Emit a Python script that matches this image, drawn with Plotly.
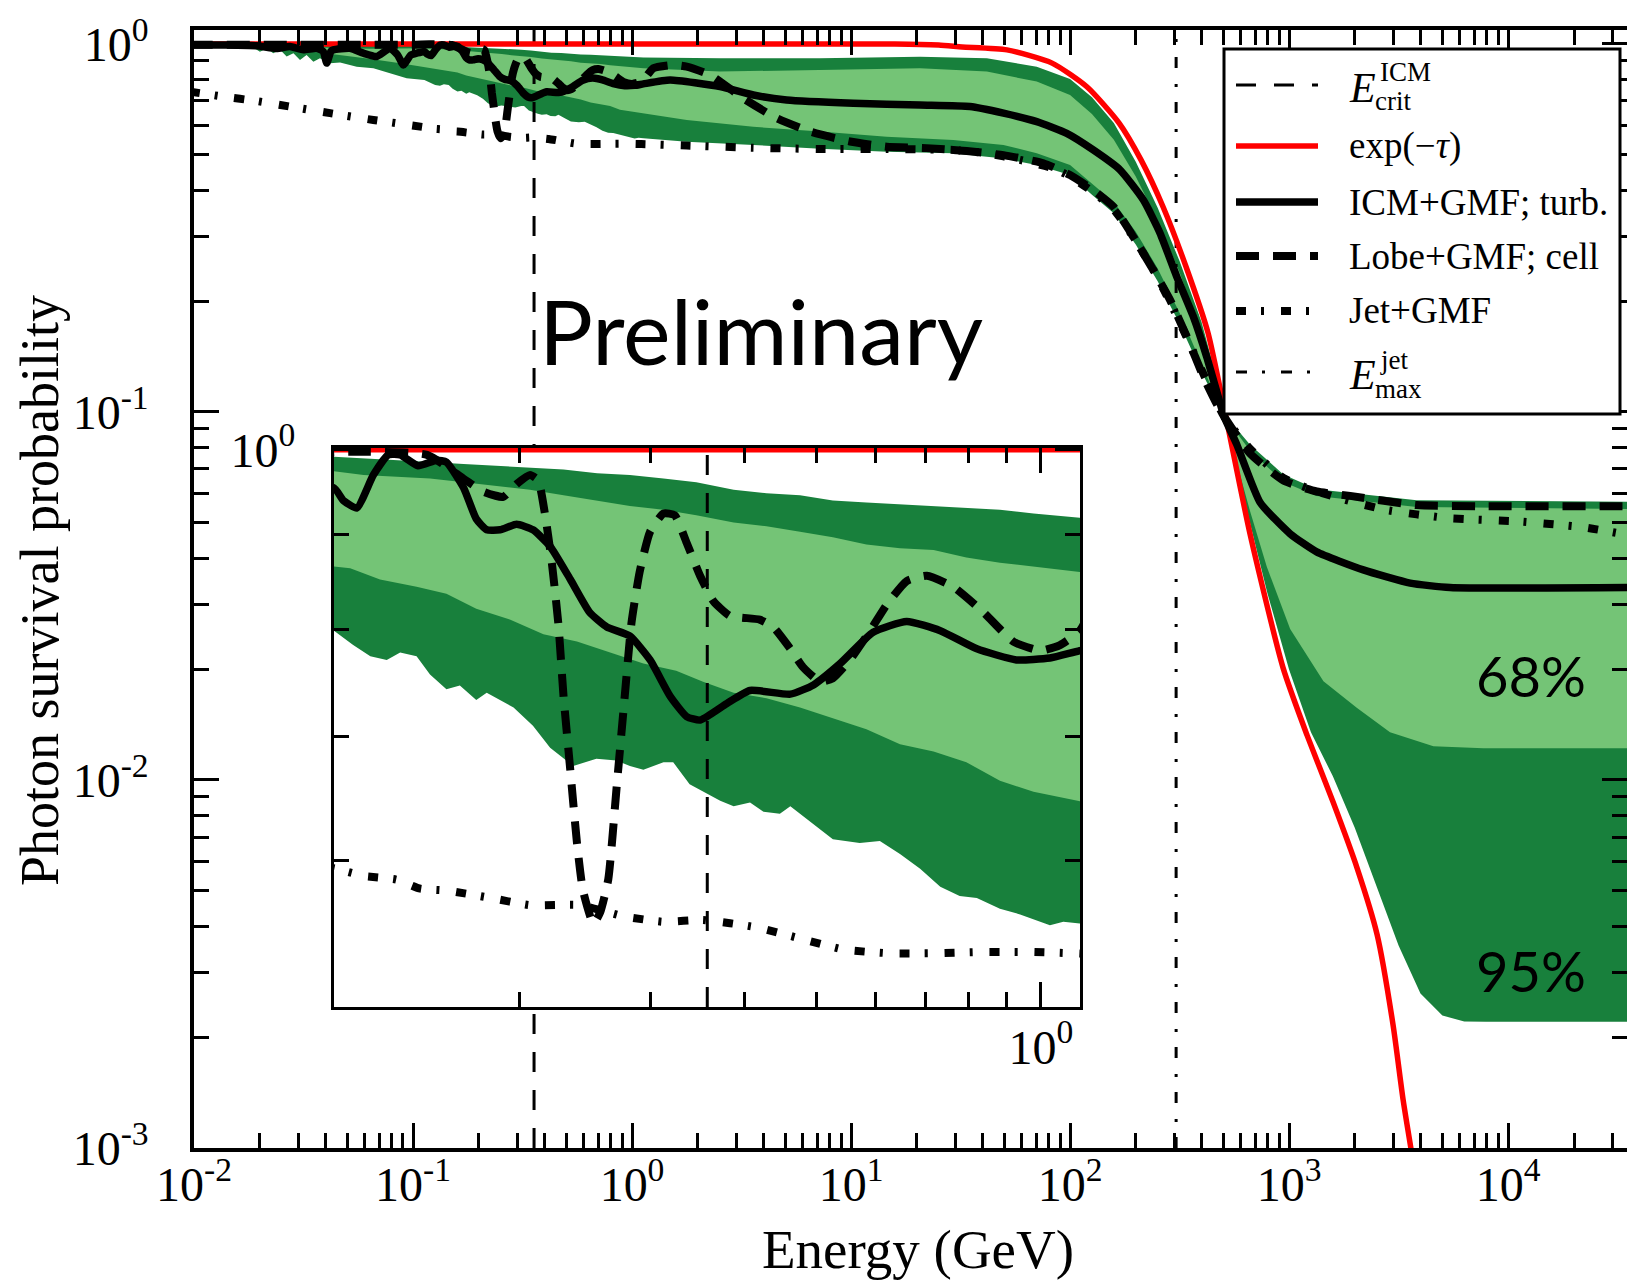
import numpy as np
import plotly.graph_objects as go

# ---------------------------------------------------------------
# Photon survival probability vs. energy
# energies stored as log10(E / GeV), probabilities as log10(P)
# ---------------------------------------------------------------

# exp(-tau): EBL absorption only
tau_logE = [-2.02, 1.20, 1.40, 1.507, 1.712, 1.918, 2.078, 2.224, 2.324, 2.425,
            2.530, 2.630, 2.712, 2.822, 2.973, 3.082, 3.201, 3.311, 3.402, 3.475,
            3.521, 3.570]
tau_logP = [0.0, 0.0, -0.003, -0.008, -0.016, -0.052, -0.117, -0.215, -0.315, -0.443,
            -0.606, -0.785, -1.014, -1.332, -1.696, -1.878, -2.060, -2.240, -2.420, -2.666,
            -2.870, -3.050]

# ICM+GMF; turbulent field
icm_logE = [-2.02, -1.85, -1.714, -1.622, -1.562, -1.501, -1.44, -1.41, -1.394, -1.375,
            -1.364, -1.288, -1.227, -1.166, -1.105, -1.07, -1.044, -1.01, -0.983, -0.948,
            -0.935, -0.917, -0.895, -0.875, -0.859, -0.835, -0.81, -0.797, -0.774, -0.757,
            -0.743, -0.725, -0.703, -0.681, -0.658, -0.631, -0.605, -0.582, -0.551, -0.524,
            -0.497, -0.475, -0.457, -0.421, -0.39, -0.336, -0.305, -0.269, -0.225, -0.18,
            -0.135, -0.086, -0.033, 0.012, 0.052, 0.174, 0.402, 0.554, 0.706, 1.011,
            1.315, 1.543, 1.696, 1.848, 1.985, 2.106, 2.228, 2.335, 2.411, 2.487,
            2.563, 2.624, 2.685, 2.703, 2.761, 2.868, 3.005, 3.126, 3.339, 3.553,
            3.735, 4.60]
icm_logP = [-0.003, -0.003, -0.005, -0.012, -0.007, -0.016, -0.012, -0.020, -0.052, -0.020,
            -0.016, -0.012, -0.025, -0.034, -0.012, -0.030, -0.057, -0.030, -0.025, -0.0205,
            -0.0274, -0.0314, -0.0136, -0.0027, -0.0027, -0.0086, -0.0056, -0.0066, -0.0205, -0.0373,
            -0.0432, -0.0432, -0.0402, -0.0432, -0.0521, -0.0699, -0.0878, -0.0957, -0.1006, -0.1135,
            -0.1332, -0.1441, -0.146, -0.137, -0.130, -0.132, -0.127, -0.1154, -0.0986, -0.0927,
            -0.0977, -0.1075, -0.1135, -0.1125, -0.1085, -0.098, -0.116, -0.1386, -0.152, -0.161,
            -0.166, -0.170, -0.188, -0.211, -0.243, -0.288, -0.342, -0.424, -0.514, -0.632,
            -0.741, -0.850, -0.976, -1.012, -1.088, -1.246, -1.331, -1.380, -1.429, -1.465,
            -1.477, -1.477]

# Lobe+GMF; cell-like field
lobe_logE = [-2.02, -1.0, -0.926, -0.823, -0.774, -0.748, -0.721, -0.703, -0.685, -0.674,
             -0.665, -0.656, -0.647, -0.640, -0.631, -0.622, -0.614, -0.600, -0.591, -0.580,
             -0.569, -0.558, -0.549, -0.538, -0.524, -0.506, -0.491, -0.475, -0.457, -0.439,
             -0.417, -0.377, -0.359, -0.336, -0.319, -0.296, -0.279, -0.256, -0.229, -0.207,
             -0.180, -0.153, -0.118, -0.077, -0.037, -0.001, 0.0255, 0.052, 0.097, 0.189,
             0.250, 0.356, 0.508, 0.661, 0.813, 0.995, 1.163, 1.345, 1.528, 1.696,
             1.878, 2.0, 2.106, 2.198, 2.289, 2.38, 2.457, 2.533, 2.609, 2.685,
             2.822, 2.974, 3.126, 3.279, 3.583, 3.887, 4.60]
lobe_logP = [-0.002, -0.002, -0.001, -0.0027, -0.0156, -0.0225, -0.0254, -0.0185, -0.0136, -0.0165,
             -0.0344, -0.060, -0.0937, -0.1332, -0.1728, -0.2124, -0.238, -0.256, -0.250, -0.232,
             -0.183, -0.1332, -0.0937, -0.066, -0.0442, -0.0344, -0.0353, -0.0502, -0.068, -0.0818,
             -0.0897, -0.0917, -0.0957, -0.1075, -0.1174, -0.1253, -0.1234, -0.1135, -0.0977, -0.0838,
             -0.0709, -0.068, -0.0739, -0.0878, -0.1036, -0.1085, -0.1055, -0.0977, -0.066, -0.057,
             -0.0616, -0.084, -0.1476, -0.202, -0.238, -0.265, -0.279, -0.283, -0.291, -0.302,
             -0.324, -0.356, -0.397, -0.442, -0.524, -0.614, -0.696, -0.795, -0.904, -0.995,
             -1.113, -1.186, -1.216, -1.228, -1.253, -1.256, -1.256]

# Jet+GMF
jet_logE = [-2.02, -1.866, -1.714, -1.562, -1.379, -1.181, -0.946, -0.908, -0.864, -0.832,
            -0.797, -0.739, -0.685, -0.618, -0.560, -0.506, -0.453, -0.381, -0.323, -0.265,
            -0.202, -0.144, -0.077, -0.010, 0.043, 0.250, 0.554, 0.858, 1.163, 1.467,
            1.620, 1.772, 1.924, 2.0, 2.1, 2.2, 2.3, 2.4, 2.5, 2.6,
            2.703, 2.822, 2.974, 3.126, 3.431, 3.735, 4.039, 4.343, 4.60]
jet_logP = [-0.1295, -0.143, -0.155, -0.170, -0.188, -0.2065, -0.2263, -0.2302, -0.2322, -0.2371,
            -0.2381, -0.242, -0.246, -0.246, -0.252, -0.255, -0.254, -0.258, -0.264, -0.270,
            -0.272, -0.272, -0.2713, -0.2713, -0.272, -0.276, -0.282, -0.2853, -0.2853, -0.288,
            -0.297, -0.315, -0.338, -0.360, -0.400, -0.450, -0.535, -0.635, -0.755, -0.885,
            -1.012, -1.100, -1.179, -1.216, -1.265, -1.289, -1.297, -1.313, -1.340]

# 95% and 68% envelopes of the turbulent-field realisations
up95_logE = [-2.02, -1.7, -1.4, -1.2, -0.948, -0.908, -0.864, -0.819, -0.774, -0.730,
             -0.685, -0.640, -0.595, -0.551, -0.506, -0.462, -0.412, -0.368, -0.323, -0.279,
             -0.234, -0.189, -0.144, -0.100, -0.055, -0.010, 0.052, 0.402, 0.858, 1.315,
             1.620, 1.848, 2.0, 2.1, 2.2, 2.3, 2.4, 2.5, 2.6, 2.67,
             2.703, 2.822, 2.974, 3.126, 3.583, 4.60]
up95_logP = [-0.001, -0.002, -0.003, -0.003, -0.0037, -0.0047, -0.0056, -0.0066, -0.0076, -0.0086,
             -0.0096, -0.0106, -0.0126, -0.0136, -0.0155, -0.0175, -0.0215, -0.0235, -0.0245, -0.0274,
             -0.0284, -0.0294, -0.0304, -0.0314, -0.0324, -0.0344, -0.0367, -0.039, -0.039, -0.0345,
             -0.039, -0.0616, -0.095, -0.145, -0.215, -0.320, -0.445, -0.590, -0.755, -0.910,
             -1.005, -1.089, -1.170, -1.210, -1.240, -1.244]

up68_logE = [-2.02, -1.7, -1.4, -1.2, -0.948, -0.908, -0.864, -0.819, -0.774, -0.730,
             -0.685, -0.640, -0.595, -0.551, -0.506, -0.462, -0.412, -0.368, -0.323, -0.279,
             -0.234, -0.189, -0.144, -0.100, -0.055, -0.010, 0.052, 0.402, 0.858, 1.315,
             1.620, 1.848, 2.0, 2.1, 2.2, 2.3, 2.4, 2.5, 2.6, 2.703,
             2.822, 2.974, 3.126, 3.583, 4.60]
up68_logP = [-0.002, -0.005, -0.010, -0.013, -0.0116, -0.0136, -0.0145, -0.0155, -0.0175, -0.0195,
             -0.0215, -0.0245, -0.0274, -0.0304, -0.0324, -0.0353, -0.0393, -0.0413, -0.0442, -0.0472,
             -0.0512, -0.0531, -0.0541, -0.0581, -0.061, -0.063, -0.066, -0.075, -0.071, -0.066,
             -0.075, -0.102, -0.1386, -0.19, -0.26, -0.36, -0.48, -0.62, -0.79, -1.01,
             -1.105, -1.19, -1.228, -1.258, -1.264]

lo68_logE = [-2.02, -1.7, -1.5, -1.364, -1.2, -1.05, -0.948, -0.926, -0.886, -0.837,
             -0.797, -0.757, -0.712, -0.667, -0.622, -0.578, -0.533, -0.489, -0.453, -0.412,
             -0.368, -0.323, -0.279, -0.234, -0.189, -0.144, -0.100, -0.055, -0.010, 0.052,
             0.250, 0.554, 0.858, 1.163, 1.467, 1.696, 1.848, 2.0, 2.1, 2.2,
             2.3, 2.4, 2.5, 2.6, 2.703, 2.822, 2.898, 3.005, 3.157, 3.309,
             3.461, 3.659, 3.887, 4.60]
lo68_logP = [-0.003, -0.008, -0.015, -0.028, -0.040, -0.053, -0.063, -0.064, -0.070, -0.0739,
             -0.0778, -0.0858, -0.0917, -0.0996, -0.1036, -0.1095, -0.1154, -0.1194, -0.1253, -0.1313,
             -0.1342, -0.1392, -0.1451, -0.151, -0.159, -0.163, -0.1688, -0.1788, -0.1847, -0.1896,
             -0.2065, -0.225, -0.238, -0.252, -0.261, -0.2745, -0.297, -0.329, -0.38, -0.43,
             -0.51, -0.61, -0.73, -0.87, -1.012, -1.27, -1.42, -1.59, -1.732, -1.804,
             -1.87, -1.908, -1.914, -1.914]

lo95_logE = [-2.02, -1.8, -1.744, -1.699, -1.668, -1.638, -1.607, -1.577, -1.546, -1.516,
             -1.486, -1.455, -1.425, -1.379, -1.333, -1.257, -1.181, -1.105, -1.029, -0.948,
             -0.922, -0.899, -0.877, -0.859, -0.837, -0.819, -0.797, -0.779, -0.757, -0.743,
             -0.707, -0.681, -0.658, -0.627, -0.596, -0.569, -0.551, -0.533, -0.506, -0.493,
             -0.471, -0.453, -0.430, -0.412, -0.390, -0.372, -0.350, -0.336, -0.305, -0.279,
             -0.243, -0.216, -0.189, -0.162, -0.135, -0.109, -0.086, -0.055, -0.028, 0.012,
             0.030, 0.052, 0.250, 0.554, 0.858, 1.163, 1.467, 1.696, 1.848, 2.0,
             2.1, 2.2, 2.3, 2.4, 2.5, 2.6, 2.703, 2.8, 2.9, 3.0,
             3.1, 3.2, 3.3, 3.4, 3.5, 3.6, 3.7, 3.8, 3.9, 4.60]
lo95_logP = [-0.003, -0.004, -0.0045, -0.021, -0.012, -0.025, -0.016, -0.034, -0.025, -0.0435,
             -0.030, -0.048, -0.039, -0.0525, -0.050, -0.0616, -0.066, -0.080, -0.093, -0.0977,
             -0.1055, -0.1115, -0.1135, -0.1095, -0.1115, -0.1214, -0.1293, -0.1273, -0.1352, -0.1313,
             -0.1392, -0.1491, -0.161, -0.1708, -0.1669, -0.1679, -0.1708, -0.1728, -0.1688, -0.1688,
             -0.1807, -0.1847, -0.1896, -0.1926, -0.1906, -0.1956, -0.1966, -0.1926, -0.2025, -0.2104,
             -0.2124, -0.2114, -0.2183, -0.2263, -0.2361, -0.241, -0.2421, -0.248, -0.251, -0.2569,
             -0.255, -0.2559, -0.2655, -0.2745, -0.285, -0.2925, -0.297, -0.311, -0.329, -0.356,
             -0.41, -0.46, -0.545, -0.645, -0.76, -0.89, -1.015, -1.25, -1.49, -1.70,
             -1.87, -1.99, -2.13, -2.29, -2.45, -2.58, -2.64, -2.656, -2.657, -2.657]

# characteristic energies (GeV)
E_CRIT_ICM = 0.357
E_MAX_JET = 305.0

# axis limits (log10)
MAIN_X = [-2.0, 4.543]
MAIN_Y = [-3.0, 0.038]
INSET_X = [-0.9477, 0.0523]
INSET_Y = [np.log10(0.5), 0.001]

# ---------------------------------------------------------------
W, H = 1627, 1282
DARK = "#18803C"
LIGHT = "#74C476"
SERIF = "Liberation Serif"
SANS = "Lato"

STYLE_CRIT = dict(color="black", width=3, dash="20px,18px")
STYLE_EMAX = dict(color="black", width=3, dash="11px,15px,3px,16px")
STYLE_TAU = dict(color="#FF0000", width=5.5)
STYLE_ICM = dict(color="black", width=7.5)
STYLE_LOBE = dict(color="black", width=8, dash="23px,14px")
STYLE_JET = dict(color="black", width=8, dash="10px,15px,3px,17px")


def lin(v):
    return 10 ** np.asarray(v, dtype=float)


def band(ux, uy, lx, ly):
    x = np.concatenate([lin(ux), lin(lx)[::-1]])
    y = np.concatenate([lin(uy), lin(ly)[::-1]])
    return x, y


fig = go.Figure()


def add_panel(xa, ya, ylim, show_emax):
    x95, y95 = band(up95_logE, up95_logP, lo95_logE, lo95_logP)
    x68, y68 = band(up68_logE, up68_logP, lo68_logE, lo68_logP)
    fig.add_trace(go.Scatter(x=x95, y=y95, fill="toself", fillcolor=DARK,
                             line=dict(width=0), mode="lines", xaxis=xa, yaxis=ya,
                             hoverinfo="skip"))
    fig.add_trace(go.Scatter(x=x68, y=y68, fill="toself", fillcolor=LIGHT,
                             line=dict(width=0), mode="lines", xaxis=xa, yaxis=ya,
                             hoverinfo="skip"))
    # characteristic energies as vertical guides
    yl = lin(ylim)
    fig.add_trace(go.Scatter(x=[E_CRIT_ICM, E_CRIT_ICM], y=yl, mode="lines",
                             line=STYLE_CRIT, xaxis=xa, yaxis=ya))
    if show_emax:
        fig.add_trace(go.Scatter(x=[E_MAX_JET, E_MAX_JET], y=yl, mode="lines",
                                 line=STYLE_EMAX, xaxis=xa, yaxis=ya))
    for lx, ly, st, sm in [(tau_logE, tau_logP, STYLE_TAU, 0.6),
                           (icm_logE, icm_logP, STYLE_ICM, 0.5),
                           (lobe_logE, lobe_logP, STYLE_LOBE, 0.5),
                           (jet_logE, jet_logP, STYLE_JET, 0.5)]:
        fig.add_trace(go.Scatter(x=lin(lx), y=lin(ly), mode="lines",
                                 line=dict(st, shape="spline", smoothing=sm),
                                 xaxis=xa, yaxis=ya))


add_panel("x", "y", MAIN_Y, True)
add_panel("x2", "y2", INSET_Y, False)


def sup_label(k):
    return "10<sup>%s</sup>" % (str(k) if k >= 0 else "-%d" % (-k))


def minor_vals(lo_dec, hi_dec):
    return [m * 10.0 ** d for d in range(lo_dec, hi_dec) for m in range(2, 10)]


axis_common = dict(type="log", showline=True, linecolor="black", linewidth=3.5,
                   mirror="allticks", ticks="inside", ticklen=25, tickwidth=2.5,
                   tickcolor="black", showgrid=False, zeroline=False,
                   automargin=False,
                   tickfont=dict(family=SERIF, size=48, color="black"),
                   tickmode="array")
minor_common = dict(ticks="inside", ticklen=15, tickwidth=2.5, tickcolor="black",
                    showgrid=False, tickmode="array")

fig.update_layout(
    template="none",
    width=W, height=H,
    margin=dict(l=0, r=0, t=0, b=0, pad=0, autoexpand=False),
    paper_bgcolor="white", plot_bgcolor="white",
    showlegend=False,
    xaxis=dict(axis_common, domain=[194 / W, 1.0], range=MAIN_X, anchor="y",
               ticklabelstandoff=-8,
               tickvals=[10.0 ** k for k in range(-2, 5)],
               ticktext=[sup_label(k) for k in range(-2, 5)],
               minor=dict(minor_common, tickvals=minor_vals(-2, 5))),
    yaxis=dict(axis_common, domain=[1 - 1148 / H, 1 - 30 / H], range=MAIN_Y, anchor="x",
               ticklabelstandoff=32,
               tickvals=[10.0 ** k for k in range(-3, 1)],
               ticktext=[sup_label(k) for k in range(-3, 1)],
               minor=dict(minor_common, tickvals=minor_vals(-3, 0))),
    xaxis2=dict(axis_common, domain=[334 / W, 1080 / W], range=INSET_X, anchor="y2",
                linewidth=3, ticklabelstandoff=-4,
                tickvals=[1.0], ticktext=[sup_label(0)],
                minor=dict(minor_common, tickvals=minor_vals(-1, 0))),
    yaxis2=dict(axis_common, domain=[1 - 1007 / H, 1 - 448 / H], range=INSET_Y, anchor="x2",
                linewidth=3, ticklabelstandoff=26,
                tickvals=[1.0], ticktext=[sup_label(0)],
                minor=dict(minor_common, tickvals=[0.6, 0.7, 0.8, 0.9])),
)


def px(x):
    return x / W


def py(y):
    return 1 - y / H


ann = []


def text(x, y, s, size, family=SERIF, xanchor="left", angle=0):
    ann.append(dict(x=px(x), y=py(y), xref="paper", yref="paper", text=s,
                    showarrow=False, xanchor=xanchor, yanchor="middle",
                    textangle=angle,
                    font=dict(family=family, size=size, color="black")))


# axis titles
text(918, 1249, "Energy (GeV)", 55, xanchor="center")
text(40, 591, "Photon survival probability", 54, xanchor="center", angle=-90)

# annotations inside the plot
text(761, 330, "Preliminary", 90, family=SANS, xanchor="center")
text(1588, 676, "68%", 56, family=SANS, xanchor="right")
text(1588, 971, "95%", 56, family=SANS, xanchor="right")

# legend box
shapes = [dict(type="rect", xref="paper", yref="paper",
               x0=px(1224), x1=px(1620), y0=py(414), y1=py(49),
               fillcolor="white", line=dict(color="black", width=3), layer="above")]

legend_rows = [(85, STYLE_CRIT), (146, STYLE_TAU), (202, STYLE_ICM),
               (256, STYLE_LOBE), (311, STYLE_JET), (372, STYLE_EMAX)]
for yc, style in legend_rows:
    shapes.append(dict(type="line", xref="paper", yref="paper",
                       x0=px(1236), x1=px(1318), y0=py(yc), y1=py(yc),
                       line=style, layer="above"))

LX = 1347
text(LX, 88, "<i>E</i>", 42)
text(LX + 31, 72, "ICM", 27)
text(LX + 26, 101, "crit", 27)
text(LX, 146, "exp(\u2212<i>\u03c4</i>)", 37)
text(LX, 202, "ICM+GMF; turb.", 37)
text(LX, 256, "Lobe+GMF; cell", 37)
text(LX, 311, "Jet+GMF", 37)
text(LX, 375, "<i>E</i>", 42)
text(LX + 31, 360, "jet", 27)
text(LX + 26, 389, "max", 27)

fig.update_layout(annotations=ann, shapes=shapes)

fig.write_html("out.html")
